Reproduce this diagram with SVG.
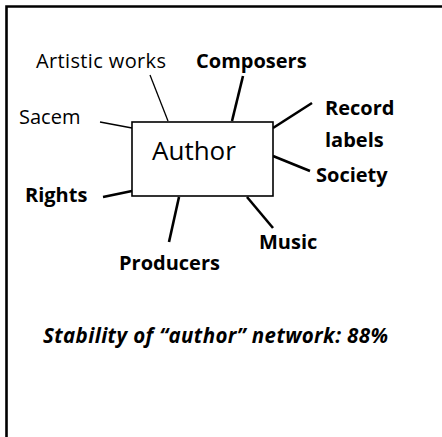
<svg xmlns="http://www.w3.org/2000/svg" width="442" height="437" viewBox="0 0 442 437">
<style>
text{font-family:"Open Sans","Liberation Sans",sans-serif;fill:#000}
.n{font-size:20px}
.b{font-size:20px;font-weight:bold}
.thin{stroke:#000;stroke-width:1.3;fill:none}
.thick{stroke:#000;stroke-width:2.6;fill:none}
</style>
<rect width="442" height="437" fill="#fff"/>
<path d="M6.5 437V6.5H442" fill="none" stroke="#000" stroke-width="2.6"/>
<g id="connectors">
<line class="thin" x1="150" y1="75" x2="168" y2="121"/>
<line class="thick" x1="243" y1="76" x2="232" y2="121"/>
<line class="thin" x1="100" y1="122" x2="132" y2="128"/>
<line class="thick" x1="312" y1="103" x2="273" y2="128"/>
<line class="thick" x1="273" y1="156" x2="310" y2="171"/>
<line class="thick" x1="103" y1="197" x2="132" y2="191"/>
<line class="thick" x1="179" y1="197" x2="169" y2="242"/>
<line class="thick" x1="247" y1="197" x2="273" y2="228"/>
</g>
<g id="author">
<rect x="132" y="122" width="141" height="74" fill="#fff" stroke="#000" stroke-width="1.6"/>
<text x="152" y="160" style="font-size:26px">Author</text>
</g>
<g id="artistic-works"><text class="n" x="36" y="68" textLength="130" lengthAdjust="spacing">Artistic works</text></g>
<g id="composers"><text class="b" x="196" y="68">Composers</text></g>
<g id="sacem"><text class="n" x="19" y="124">Sacem</text></g>
<g id="record-labels"><text class="b" x="325" y="115">Record</text><text class="b" x="325" y="147">labels</text></g>
<g id="society"><text class="b" x="316" y="182">Society</text></g>
<g id="rights"><text class="b" x="25" y="202">Rights</text></g>
<g id="music"><text class="b" x="259" y="249">Music</text></g>
<g id="producers"><text class="b" x="119" y="270">Producers</text></g>
<text x="43" y="343" textLength="345" lengthAdjust="spacing" style="font-size:20.5px;font-weight:bold;font-style:italic">Stability of “author” network: 88%</text>
</svg>
